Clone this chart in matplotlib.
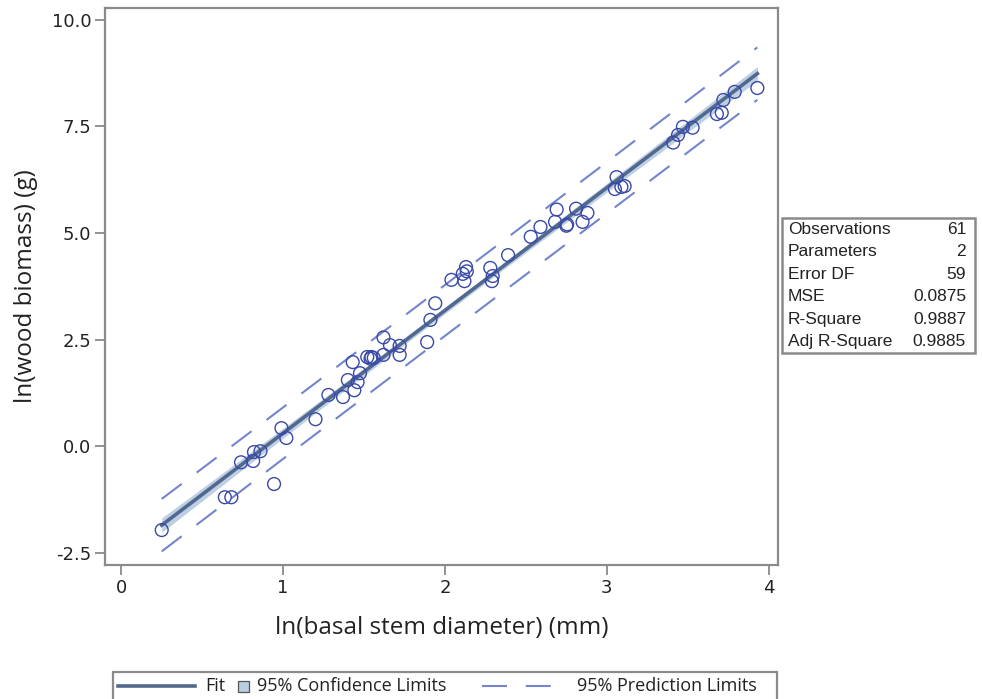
import numpy as np
import matplotlib
matplotlib.use("Agg")
import matplotlib.pyplot as plt
from matplotlib.lines import Line2D
from matplotlib.patches import Rectangle

# ln(basal stem diameter) (mm) and ln(wood biomass) (g) for each sampled stem
ln_diameter = [
    0.25, 0.64, 0.68, 0.74, 0.815, 0.82, 0.86, 0.944, 0.99, 1.02,
    1.20, 1.28, 1.37, 1.40, 1.43, 1.44, 1.46, 1.475, 1.52, 1.545,
    1.54, 1.56, 1.62, 1.62, 1.66, 1.72, 1.72, 1.89, 1.91, 1.94,
    2.04, 2.11, 2.12, 2.13, 2.135, 2.28, 2.29, 2.295, 2.39, 2.53,
    2.59, 2.69, 2.68, 2.75, 2.755, 2.81, 2.85, 2.88, 3.06, 3.05,
    3.09, 3.11, 3.41, 3.44, 3.47, 3.53, 3.68, 3.71, 3.72, 3.79, 3.93,
]
ln_biomass = [
    -1.97, -1.20, -1.20, -0.38, -0.35, -0.14, -0.12, -0.89, 0.42, 0.19,
    0.63, 1.20, 1.15, 1.55, 1.97, 1.31, 1.50, 1.71, 2.09, 2.09,
    2.05, 2.07, 2.55, 2.14, 2.37, 2.35, 2.14, 2.44, 2.96, 3.35,
    3.90, 4.04, 3.87, 4.20, 4.10, 4.18, 3.87, 3.99, 4.48, 4.91,
    5.14, 5.55, 5.26, 5.17, 5.20, 5.57, 5.26, 5.47, 6.31, 6.03,
    6.08, 6.10, 7.12, 7.30, 7.49, 7.47, 7.79, 7.82, 8.12, 8.31, 8.40,
]

stat_names = ["Observations", "Parameters", "Error DF", "MSE", "R-Square", "Adj R-Square"]
stat_values = ["61", "2", "59", "0.0875", "0.9887", "0.9885"]
legend_labels = ["Fit", "95% Confidence Limits", "95% Prediction Limits"]
mse = 0.0875
t_crit = 2.001  # two-sided 95% t quantile, 59 df

x = np.array(ln_diameter)
y = np.array(ln_biomass)
n = len(x)
slope, intercept = np.polyfit(x, y, 1)
xg = np.linspace(x.min(), x.max(), 200)
fit = intercept + slope * xg
sxx = np.sum((x - x.mean()) ** 2)
se_mean = np.sqrt(mse * (1.0 / n + (xg - x.mean()) ** 2 / sxx))
se_pred = np.sqrt(mse * (1.0 + 1.0 / n + (xg - x.mean()) ** 2 / sxx))

fit_color = "#52698f"
band_color = "#b9cde3"
pred_color = "#7385cc"
marker_color = "#3949a8"
frame_color = "#8a8a8a"
text_color = "#222222"
pred_dashes = (12, 9)

W, H = 982, 699
fig = plt.figure(figsize=(W / 100, H / 100), dpi=100)
ax = fig.add_axes([0.107, 0.1917, 0.685, 0.797])

ax.fill_between(xg, fit - t_crit * se_mean, fit + t_crit * se_mean,
                color=band_color, alpha=0.95, lw=0, zorder=1)
ax.plot(xg, fit, color=fit_color, lw=2.6, zorder=3)
ax.plot(xg, fit + t_crit * se_pred, color=pred_color, lw=1.5,
        dashes=pred_dashes, zorder=2)
ax.plot(xg, fit - t_crit * se_pred, color=pred_color, lw=1.5,
        dashes=pred_dashes, zorder=2)
ax.scatter(x, y, s=85, facecolors="none", edgecolors=marker_color,
           linewidths=1.0, zorder=4)

ax.set_xlim(-0.1, 4.056)
ax.set_ylim(-2.79, 10.28)
ax.set_xticks([0, 1, 2, 3, 4])
ax.set_yticks([-2.5, 0.0, 2.5, 5.0, 7.5, 10.0])
ax.set_yticklabels(["-2.5", "0.0", "2.5", "5.0", "7.5", "10.0"])
for sp in ax.spines.values():
    sp.set_color(frame_color)
    sp.set_linewidth(1.6)
ax.tick_params(direction="out", length=7, width=1.3, color=frame_color,
               labelsize=13, labelcolor=text_color, pad=3)
for lbl in ax.get_xticklabels() + ax.get_yticklabels():
    lbl.set_family("DejaVu Sans")

ax.set_xlabel("ln(basal stem diameter) (mm)", family="Open Sans",
              fontsize=17.5, color=text_color, labelpad=14)
ax.set_ylabel("ln(wood biomass) (g)", family="Open Sans",
              fontsize=17.5, color=text_color, labelpad=10)


def fx(px):
    return px / W


def fy(py):
    return 1 - py / H


# Fit statistics table to the right of the plot
box_l, box_r = fx(782), fx(975)
box_t, box_b = fy(218), fy(353)
fig.patches.append(Rectangle((box_l, box_b), box_r - box_l, box_t - box_b,
                             transform=fig.transFigure, fill=False,
                             edgecolor=frame_color, lw=1.8))
row_h = (box_t - box_b) / len(stat_names)
for i, (name, val) in enumerate(zip(stat_names, stat_values)):
    yy = box_t - (i + 0.5) * row_h
    fig.text(box_l + fx(6), yy, name, family="Liberation Sans", fontsize=12.5,
             color=text_color, va="center", ha="left")
    fig.text(box_r - fx(9), yy, val, family="Liberation Sans", fontsize=12.5,
             color=text_color, va="center", ha="right")

# Legend strip below the plot
ly = fy(686)
fig.patches.append(Rectangle((fx(113), fy(702)), fx(777 - 113), fy(672) - fy(702),
                             transform=fig.transFigure, fill=False,
                             edgecolor=frame_color, lw=1.6))
fig.lines.append(Line2D([fx(118), fx(195)], [ly, ly], transform=fig.transFigure,
                        color=fit_color, lw=2.6))
fig.text(fx(205), ly, legend_labels[0], family="Open Sans", fontsize=13,
         color=text_color, va="center", ha="left")
sq = 11
fig.patches.append(Rectangle((fx(238), fy(686 + sq / 2)), fx(sq), fy(0) - fy(sq),
                             transform=fig.transFigure, facecolor=band_color,
                             edgecolor="#555555", lw=0.9))
fig.text(fx(257), ly, legend_labels[1], family="Open Sans", fontsize=13,
         color=text_color, va="center", ha="left")
fig.lines.append(Line2D([fx(482), fx(566)], [ly, ly], transform=fig.transFigure,
                        color=pred_color, lw=1.5, dashes=pred_dashes))
fig.text(fx(577), ly, legend_labels[2], family="Open Sans", fontsize=13,
         color=text_color, va="center", ha="left")

fig.savefig("out.png", dpi=100, facecolor="white")
